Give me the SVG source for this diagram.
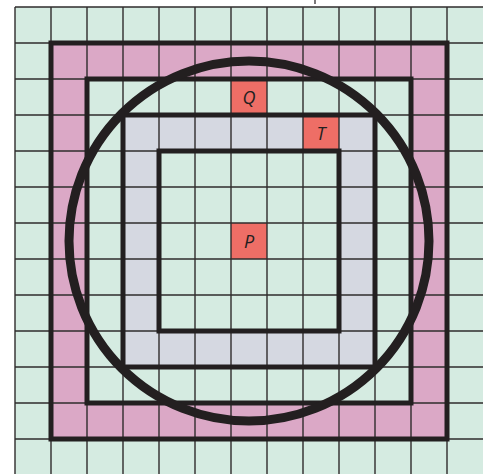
<svg xmlns="http://www.w3.org/2000/svg" width="483" height="474" viewBox="0 0 483 474">
<defs>
<style>
.g{fill:#d5ebe1}
.pk{fill:#dba8c6}
.gy{fill:#d5d8e1}
.rd{fill:#ee6e66}
.grid{stroke:#2f2c2d;stroke-width:1.4;fill:none}
.thick{stroke:#231f20;stroke-width:5;fill:none}
.lbl{font-family:"Open Sans","Liberation Sans",sans-serif;font-style:italic;font-size:18px;fill:#231f20;text-anchor:middle}
</style>
</defs>
<rect width="483" height="474" fill="#ffffff"/>
<g id="background">
<rect class="g" x="15" y="7" width="468" height="468"/>
<rect class="pk" x="51" y="43" width="396" height="396"/>
<rect class="g" x="87" y="79" width="324" height="324"/>
<rect class="gy" x="123" y="115" width="252" height="252"/>
<rect class="g" x="159" y="151" width="180" height="180"/>
<rect class="rd" x="231" y="79" width="36" height="36"/>
<rect class="rd" x="303" y="115" width="36" height="36"/>
<rect class="rd" x="231" y="223" width="36" height="36"/>
</g>
<g id="grid" class="grid">
<path d="M15 7V475M51 7V475M87 7V475M123 7V475M159 7V475M195 7V475M231 7V475M267 7V475M303 7V475M339 7V475M375 7V475M411 7V475M447 7V475"/>
<path d="M15 7H483M15 43H483M15 79H483M15 115H483M15 151H483M15 187H483M15 223H483M15 259H483M15 295H483M15 331H483M15 367H483M15 403H483M15 439H483"/>
</g>
<path d="M315 0V4" stroke="#231f20" stroke-width="1.2"/>
<g id="squares" class="thick">
<rect x="51" y="43" width="396" height="396"/>
<rect x="87" y="79" width="324" height="324"/>
<rect x="123" y="115" width="252" height="252"/>
<rect x="159" y="151" width="180" height="180"/>
</g>
<g id="circle">
<circle cx="249" cy="241" r="180" fill="none" stroke="#231f20" stroke-width="9"/>
</g>
<g id="node-Q"><text class="lbl" x="249" y="104">Q</text></g>
<g id="node-T"><text class="lbl" x="321" y="140">T</text></g>
<g id="node-P"><text class="lbl" x="249" y="248">P</text></g>
</svg>
